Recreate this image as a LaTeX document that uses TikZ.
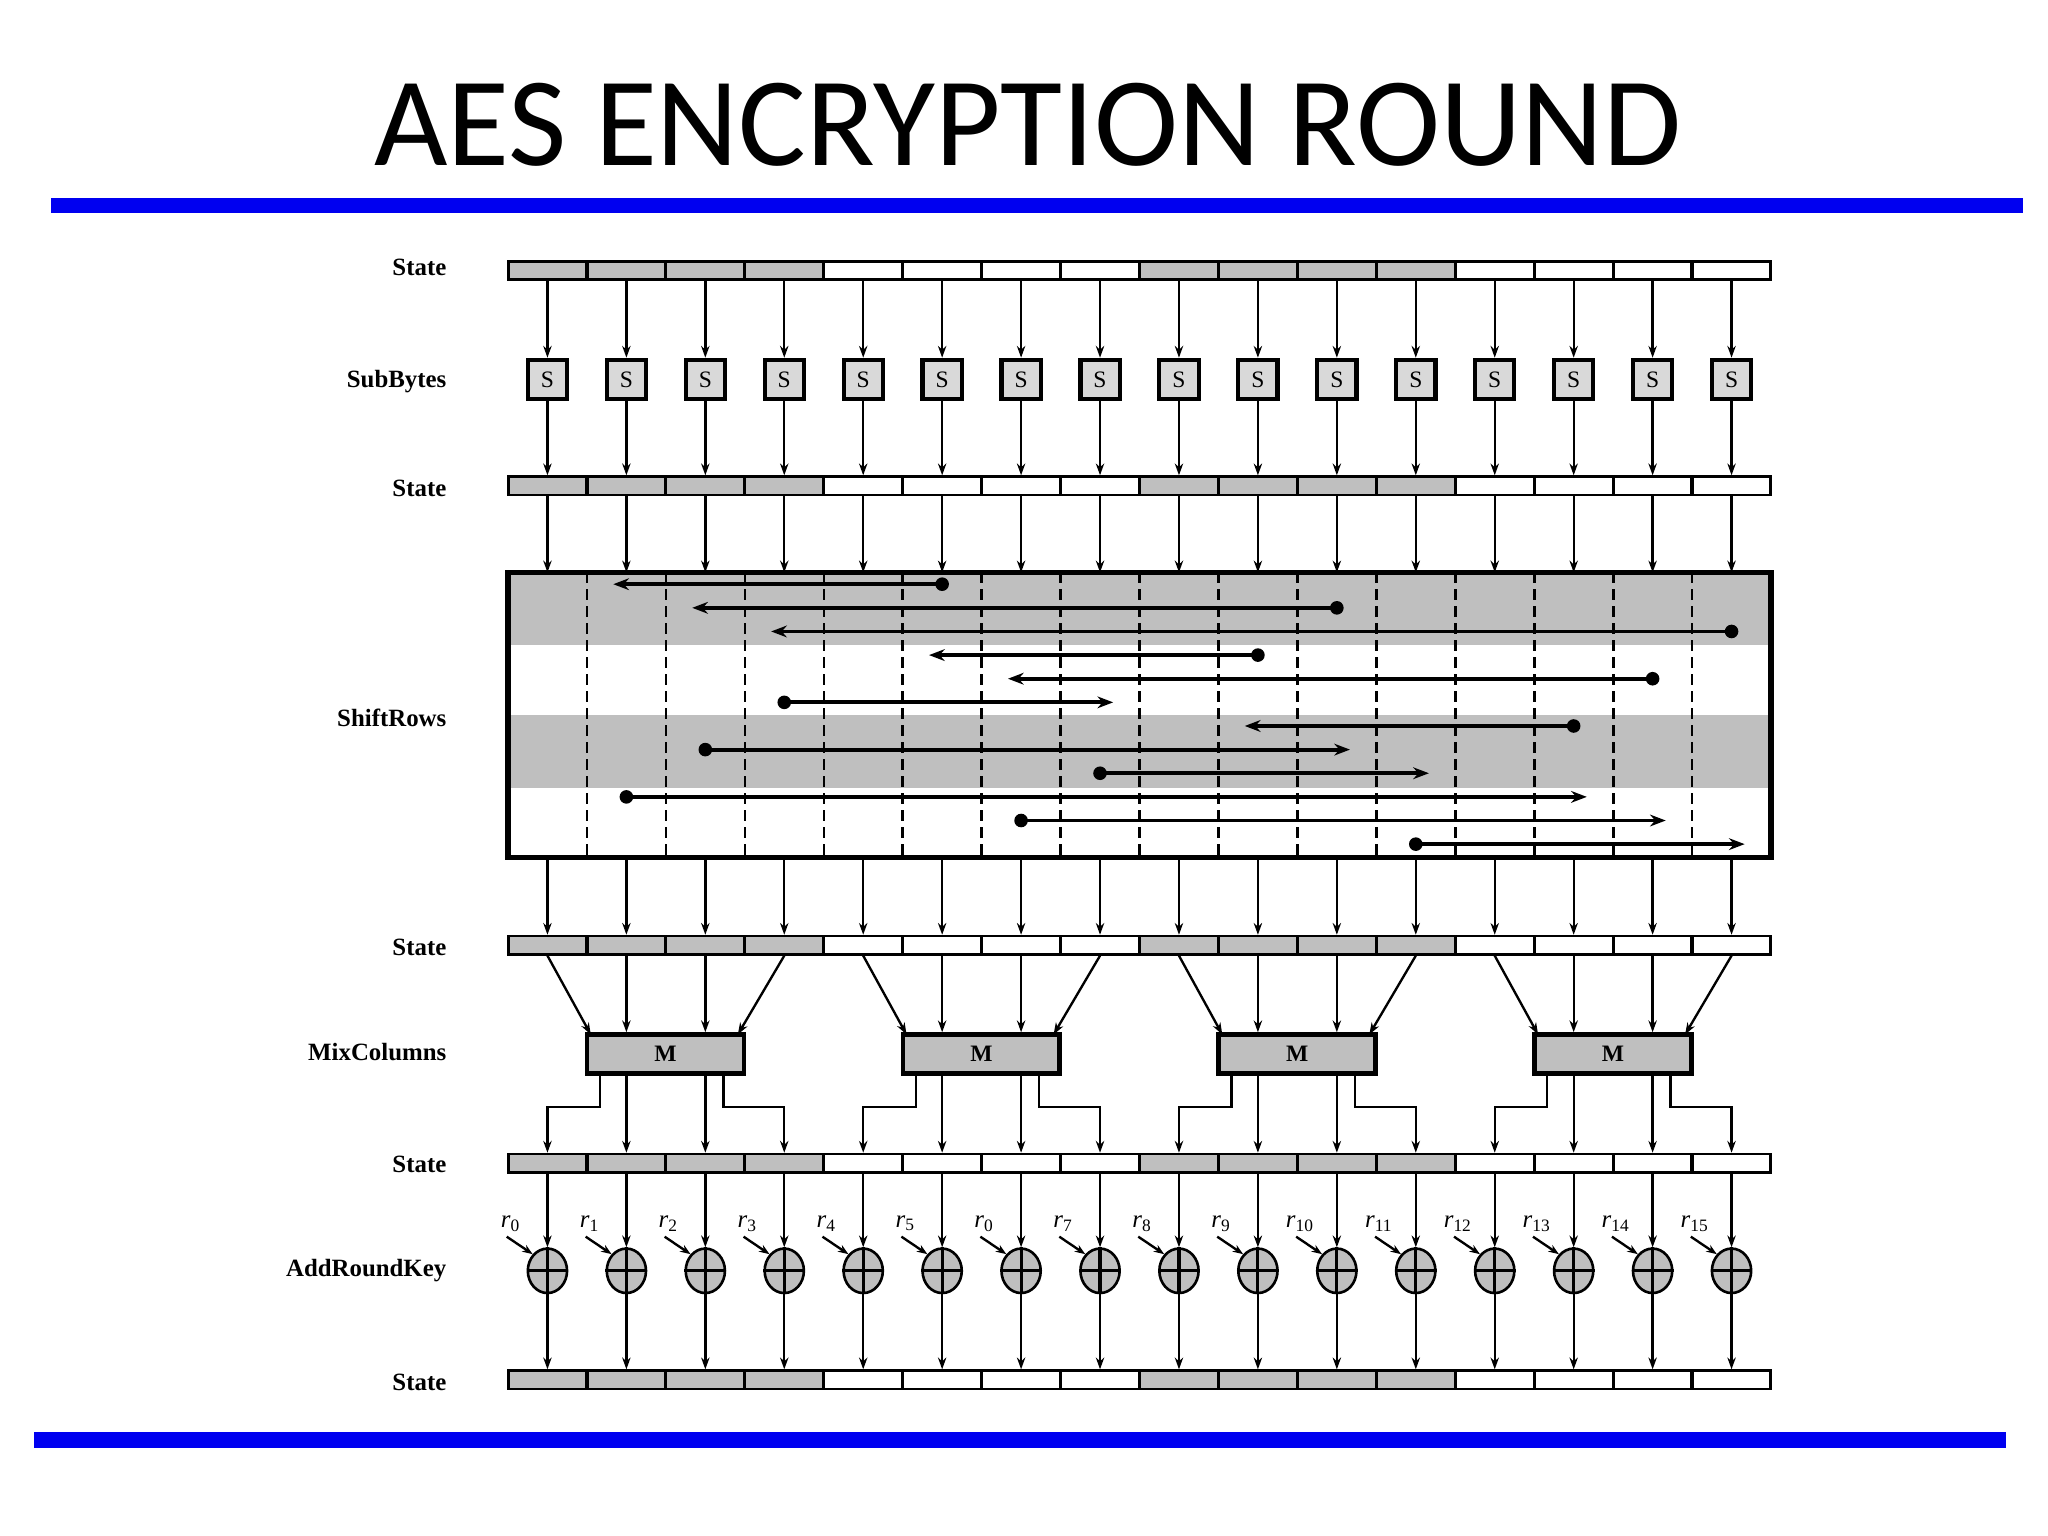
\documentclass[tikz,border=0pt]{standalone}
\usepackage{fontspec}
\setmainfont{Liberation Serif}
\newfontfamily\titlefont{Carlito}
\usetikzlibrary{arrows.meta,shapes.geometric}
\begin{document}
\begin{tikzpicture}[x=0.5bp,y=-0.5bp,
  arr/.style={line width=0.9pt,-{Stealth[length=4.5pt,width=3.2pt]}},
  cellbox/.style={draw,line width=1pt,minimum width=29.95pt,minimum height=7pt,inner sep=0pt},
  rowlab/.style={anchor=east,font=\bfseries\fontsize{9.5}{11}\selectfont},
  sbox/.style={draw,line width=1.6pt,fill=gray!30,minimum size=15pt,inner sep=0pt,font=\fontsize{9}{10}\selectfont},
  mbox/.style={draw,line width=1.8pt,fill=gray!50,minimum width=60pt,minimum height=15pt,inner sep=0pt,font=\bfseries\fontsize{9}{10}\selectfont},
  xorc/.style={draw,line width=1pt,fill=gray!50,ellipse,minimum width=15pt,minimum height=17pt,inner sep=0pt},
  bluebar/.style={fill={rgb,255:red,0;green,0;blue,240}}]
\useasboundingbox (0,0) rectangle (1560,1170);
\node[font=\titlefont\fontsize{48.5}{50}\selectfont] (title) at (783,95) {AES ENCRYPTION ROUND};
\fill[bluebar] (39,151) rectangle (1541,162);
\fill[bluebar] (26,1091) rectangle (1528,1103);
% row labels
\foreach \n/\t/\y in {l1/State/204,l2/SubBytes/291,l3/State/372,l4/ShiftRows/547,l5/State/722,l6/MixColumns/801,l7/State/887,l8/AddRoundKey/968,l9/State/1053}
  \node[rowlab] (\n) at (347,\y) {\t};
% state rows
\foreach \r/\y in {1/206,2/370,3/720,4/886,5/1051}{
  \foreach \i in {0,...,15}{
    \pgfmathtruncatemacro\g{mod(floor(\i/4),2)}
    \ifnum\g=0
      \node[cellbox,fill=gray!50] (s\r c\i) at ({417+60.13*\i},\y) {};
    \else
      \node[cellbox,fill=white] (s\r c\i) at ({417+60.13*\i},\y) {};
    \fi
  }
}
% SubBytes
\foreach \i in {0,...,15}{
  \node[sbox] (sb\i) at ({417+60.13*\i},289) {S};
  \draw[arr] (s1c\i.south) -- (sb\i.north);
  \draw[arr] (sb\i.south) -- (s2c\i.north);
}
% ShiftRows
\fill[gray!50] (387,436) rectangle (1349,491);
\fill[gray!50] (387,545) rectangle (1349,600);
\foreach \k in {1,...,15}
  \draw[line width=1pt,dash pattern=on 4pt off 2.5pt] ({387+60.13*\k},436) -- ({387+60.13*\k},653);
\draw[line width=2pt] (387,436) rectangle (1349,653);
\foreach \i in {0,...,15}{
  \coordinate (srt\i) at ({417+60.13*\i},436);
  \coordinate (srb\i) at ({417+60.13*\i},653);
  \draw[arr] (s2c\i.south) -- (srt\i);
  \draw[arr] (srb\i) -- (s3c\i.north);
}
\foreach \k/\a/\b in {0/5/1,1/10/2,2/15/3,3/9/5,4/14/6,5/3/7,6/13/9,7/2/10,8/7/11,9/1/13,10/6/14,11/11/15}{
  \pgfmathsetmacro\yy{445+18*\k}
  \pgfmathsetmacro\xa{417+60.13*\a}
  \pgfmathsetmacro\xb{417+60.13*\b+(\b>\a ? 10 : -10)}
  \coordinate (dot\k) at (\xa,\yy);
  \fill (dot\k) circle (2.6pt);
  \coordinate (tip\k) at (\xb,\yy);
  \draw[line width=1.5pt,-{Stealth[length=6pt,width=4.5pt]}] (dot\k) -- (tip\k);
}
% MixColumns
\foreach \g in {0,...,3}{
  \pgfmathsetmacro\bx{507+240.52*\g}
  \node[mbox] (m\g) at (\bx,803) {M};
  \pgfmathtruncatemacro\ca{4*\g}
  \pgfmathtruncatemacro\cb{4*\g+1}
  \pgfmathtruncatemacro\cc{4*\g+2}
  \pgfmathtruncatemacro\cd{4*\g+3}
  \draw[arr] (s3c\ca.south) -- (\bx-57,788);
  \draw[arr] (s3c\cb.south) -- (s3c\cb.south|-m\g.north);
  \draw[arr] (s3c\cc.south) -- (s3c\cc.south|-m\g.north);
  \draw[arr] (s3c\cd.south) -- (\bx+55,788);
  \draw[arr] (\bx-50,818) -- (\bx-50,843) -| (s4c\ca.north);
  \draw[arr] (s4c\cb.north|-m\g.south) -- (s4c\cb.north);
  \draw[arr] (s4c\cc.north|-m\g.south) -- (s4c\cc.north);
  \draw[arr] (\bx+44,818) -- (\bx+44,843) -| (s4c\cd.north);
}
% AddRoundKey
\foreach \i/\lab in {0/0,1/1,2/2,3/3,4/4,5/5,6/0,7/7,8/8,9/9,10/10,11/11,12/12,13/13,14/14,15/15}{
  \pgfmathsetmacro\cx{417+60.13*\i}
  \node[xorc] (x\i) at (\cx,968) {};
  \draw[line width=1.2pt] (x\i.north) -- (x\i.south) (x\i.west) -- (x\i.east);
  \draw[arr] (s4c\i.south) -- (x\i.north);
  \draw[arr] (x\i.south) -- (s5c\i.north);
  \node[font=\fontsize{9.5}{10}\selectfont,inner sep=0pt] (r\i) at (\cx-28,932) {\textit{r}\textsubscript{\lab}};
  \draw[line width=0.9pt,-{Stealth[length=4pt,width=3pt]}] (\cx-31,942) -- (x\i.north west);
}
\end{tikzpicture}
\end{document}
